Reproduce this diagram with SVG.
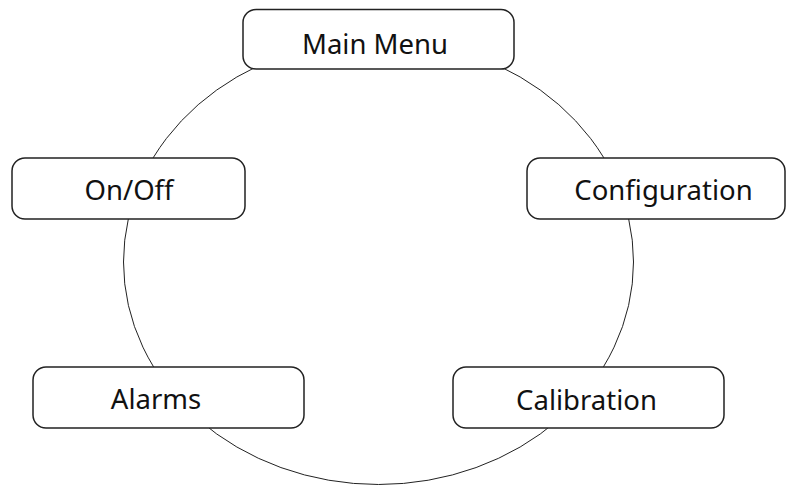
<svg xmlns="http://www.w3.org/2000/svg" width="787" height="485" viewBox="0 0 787 485">
<style>
.box{fill:#fff;stroke:#222;stroke-width:1.5}
.lbl{font-family:"Noto Sans","Open Sans",sans-serif;font-size:27.5px;fill:#111;text-anchor:middle}
.conn{fill:none;stroke:#222;stroke-width:1}
</style>
<rect width="787" height="485" fill="#fff"/>
<g id="connectors">
<ellipse class="conn" cx="378.5" cy="262" rx="255" ry="222.5"/>
</g>
<g id="main-menu">
<rect class="box" x="243" y="9.5" width="271" height="59.5" rx="13"/>
<text class="lbl" x="375" y="53.5">Main Menu</text>
</g>
<g id="on-off">
<rect class="box" x="12" y="158" width="233" height="61" rx="13"/>
<text class="lbl" x="129" y="199.5">On/Off</text>
</g>
<g id="configuration">
<rect class="box" x="527" y="158" width="258" height="61" rx="13"/>
<text class="lbl" x="663.5" y="200">Configuration</text>
</g>
<g id="alarms">
<rect class="box" x="33" y="367" width="271" height="61" rx="13"/>
<text class="lbl" x="156" y="408.5">Alarms</text>
</g>
<g id="calibration">
<rect class="box" x="453" y="367" width="271" height="61" rx="13"/>
<text class="lbl" x="586.5" y="410">Calibration</text>
</g>
</svg>
